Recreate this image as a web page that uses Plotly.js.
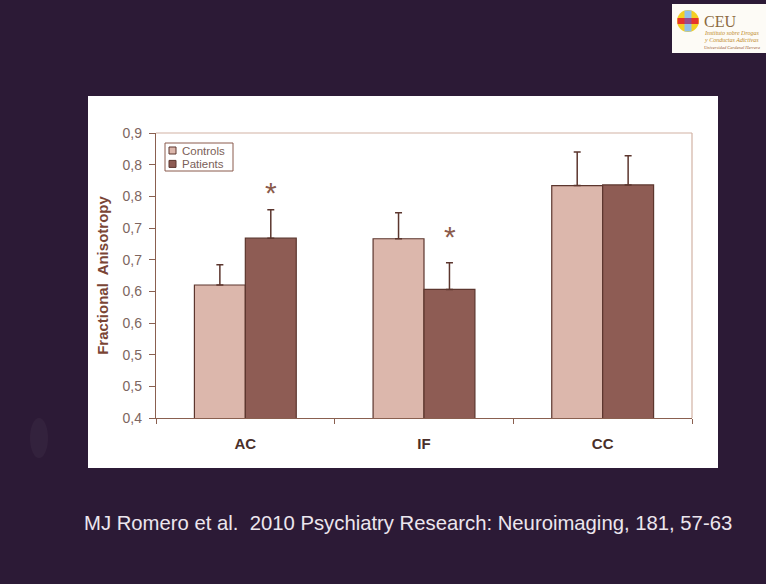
<!DOCTYPE html>
<html>
<head>
<meta charset="utf-8">
<script src="https://cdn.plot.ly/plotly-3.0.1.min.js"></script>
<style>html,body{margin:0;padding:0;background:#2c1a36;}#chart{width:766px;height:584px;}</style>
</head>
<body>
<div id="chart"></div>
<script>
// ---- data ----
var categories = ['AC', 'IF', 'CC'];
var seriesNames = ['Controls', 'Patients'];
var controls = [0.610, 0.683, 0.767];
var controlsErr = [0.032, 0.041, 0.053];
var patients = [0.684, 0.603, 0.768];
var patientsErr = [0.045, 0.042, 0.046];
var yTickVals = [0.40, 0.45, 0.50, 0.55, 0.60, 0.65, 0.70, 0.75, 0.80, 0.85];
var yTickText = ['0,4', '0,5', '0,5', '0,6', '0,6', '0,7', '0,7', '0,8', '0,8', '0,9'];
var sigCategories = ['AC', 'IF'];
var sigY = [0.765, 0.696];
var citation = 'MJ Romero et al.  2010 Psychiatry Research: Neuroimaging, 181, 57-63';

// ---- geometry helpers (pixel -> paper) ----
var L = 156, R = 692, T = 133, B = 418;
function px(x) { return (x - L) / (R - L); }
function py(y) { return (B - y) / (B - T); }
function zeros(a) { return a.map(function () { return 0; }); }

var edge = '#5c362e';
var fills = ['#dcb7ac', '#8e5c54'];
var traces = [
  {
    type: 'bar', name: seriesNames[0], x: categories, y: controls, showlegend: false,
    marker: {color: fills[0], line: {color: edge, width: 1.2}},
    error_y: {type: 'data', symmetric: false, array: controlsErr, arrayminus: zeros(controlsErr),
              color: edge, thickness: 1.5, width: 3.5}
  },
  {
    type: 'bar', name: seriesNames[1], x: categories, y: patients, showlegend: false,
    marker: {color: fills[1], line: {color: edge, width: 1.2}},
    error_y: {type: 'data', symmetric: false, array: patientsErr, arrayminus: zeros(patientsErr),
              color: edge, thickness: 1.5, width: 3.5}
  }
];

var shapes = [
  // white panel
  {type: 'rect', xref: 'paper', yref: 'paper', x0: px(88), x1: px(718), y0: py(468), y1: py(96),
   fillcolor: '#ffffff', line: {width: 0}, layer: 'below'},
  // light top / right frame of plot area
  {type: 'line', xref: 'paper', yref: 'paper', x0: 0, x1: 1, y0: 1, y1: 1, line: {color: '#d2b2a4', width: 1.2}},
  {type: 'line', xref: 'paper', yref: 'paper', x0: 1, x1: 1, y0: 0, y1: 1, line: {color: '#d2b2a4', width: 1.2}},
  // faint smudge on the left
  {type: 'circle', xref: 'paper', yref: 'paper', x0: px(30), x1: px(48), y0: py(458), y1: py(418),
   fillcolor: 'rgba(150,140,150,0.07)', line: {width: 0}, layer: 'below'},
  // legend box
  {type: 'rect', xref: 'paper', yref: 'paper', x0: px(165), x1: px(233), y0: py(171), y1: py(143),
   fillcolor: '#ffffff', line: {color: '#8a5a4c', width: 1}},
  // logo box
  {type: 'rect', xref: 'paper', yref: 'paper', x0: px(672), x1: px(770), y0: py(53), y1: py(4),
   fillcolor: '#fdfbf6', line: {width: 0}},
  // logo emblem
  {type: 'circle', xref: 'paper', yref: 'paper', x0: px(677), x1: px(699), y0: py(32), y1: py(10),
   fillcolor: '#f4cf22', line: {width: 0}},
  {type: 'rect', xref: 'paper', yref: 'paper', x0: px(684.5), x1: px(691.5), y0: py(31.5), y1: py(10.5),
   fillcolor: '#90c0ea', line: {width: 0}},
  {type: 'rect', xref: 'paper', yref: 'paper', x0: px(677.5), x1: px(698.5), y0: py(24), y1: py(18),
   fillcolor: '#e6342c', line: {width: 0}},
  {type: 'rect', xref: 'paper', yref: 'paper', x0: px(684.5), x1: px(691.5), y0: py(24), y1: py(18),
   fillcolor: '#9a4a8a', line: {width: 0}}
];

var annotations = [];
// legend entries
seriesNames.forEach(function (n, i) {
  var yc = 150.5 + i * 13.4;
  shapes.push({type: 'rect', xref: 'paper', yref: 'paper', x0: px(169), x1: px(176), y0: py(yc + 3.5), y1: py(yc - 3.5),
    fillcolor: fills[i], line: {color: edge, width: 1}});
  annotations.push({xref: 'paper', yref: 'paper', x: px(181), y: py(yc), xanchor: 'left', yanchor: 'middle',
    text: n, showarrow: false, borderpad: 0,
    font: {family: 'Liberation Sans, Arial, sans-serif', size: 11.5, color: '#7a6058'}});
});
sigCategories.forEach(function (c, i) {
  annotations.push({x: c, y: sigY[i], xref: 'x', yref: 'y', xshift: 25.5, yshift: -6,
    text: '*', showarrow: false, font: {family: 'Liberation Sans, Arial, sans-serif', size: 30, color: '#8a5a4c'}});
});
annotations.push({xref: 'paper', yref: 'paper', x: px(82), y: py(523), xanchor: 'left', yanchor: 'middle',
  text: citation, showarrow: false, font: {family: 'Liberation Sans, Arial, sans-serif', size: 20.3, color: '#ece6ee'}});
annotations.push({xref: 'paper', yref: 'paper', x: px(702), y: py(21), xanchor: 'left', yanchor: 'middle',
  text: 'CEU', showarrow: false, font: {family: 'Liberation Serif, serif', size: 16, color: '#8c6a3e'}});
annotations.push({xref: 'paper', yref: 'paper', x: px(702), y: py(33), xanchor: 'left', yanchor: 'middle',
  text: '<i>Instituto sobre Drogas</i>', showarrow: false, font: {family: 'Liberation Serif, serif', size: 6, color: '#c08a2a'}});
annotations.push({xref: 'paper', yref: 'paper', x: px(702), y: py(40), xanchor: 'left', yanchor: 'middle',
  text: '<i>y Conductas Adictivas</i>', showarrow: false, font: {family: 'Liberation Serif, serif', size: 6, color: '#c08a2a'}});
annotations.push({xref: 'paper', yref: 'paper', x: px(702), y: py(48), xanchor: 'left', yanchor: 'middle',
  text: '<i>Universidad Cardenal Herrera</i>', showarrow: false, font: {family: 'Liberation Serif, serif', size: 4.5, color: '#9a5a30'}});

var layout = {
  width: 766, height: 584,
  margin: {l: L, r: 766 - R, t: T, b: 584 - B, pad: 0},
  paper_bgcolor: '#2c1a36',
  plot_bgcolor: '#ffffff',
  barmode: 'group', bargap: 0.43, bargroupgap: 0,
  showlegend: false,
  xaxis: {type: 'category', tickson: 'boundaries', ticks: 'outside', ticklen: 5, tickcolor: '#8a6050',
          showline: true, linecolor: '#8a6050', linewidth: 1.2, showgrid: false, zeroline: false,
          ticklabelstandoff: 12,
          tickfont: {family: 'Liberation Sans, Arial, sans-serif', size: 15, color: '#4a302a', weight: 'bold'}},
  yaxis: {range: [0.4, 0.85], tickmode: 'array', tickvals: yTickVals, ticktext: yTickText,
          ticks: 'outside', ticklen: 6, tickcolor: '#8a6050', showline: true, linecolor: '#8a6050', linewidth: 1.2,
          showgrid: false, zeroline: false, ticklabelstandoff: 4,
          tickfont: {family: 'Liberation Sans, Arial, sans-serif', size: 14, color: '#7d6560'},
          title: {text: 'Fractional  Anisotropy', standoff: 10,
                  font: {family: 'Liberation Sans, Arial, sans-serif', size: 15, color: '#7a4535', weight: 'bold'}}},
  shapes: shapes,
  annotations: annotations
};

Plotly.newPlot('chart', traces, layout, {displayModeBar: false, staticPlot: true});
</script>
</body>
</html>
